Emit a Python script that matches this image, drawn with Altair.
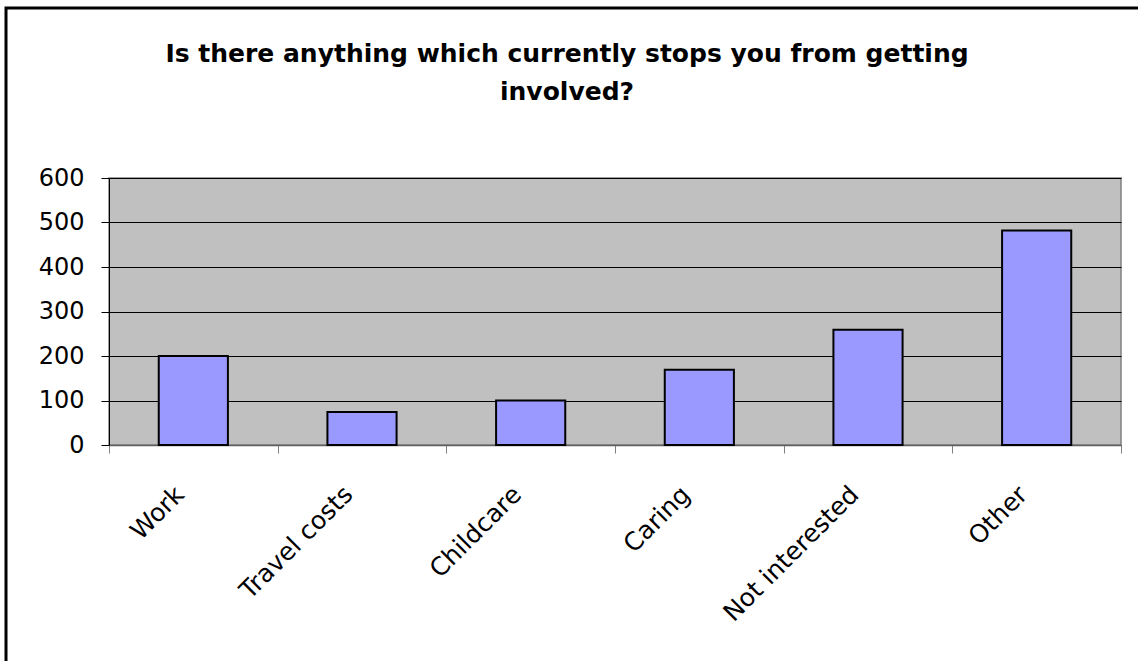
import altair as alt
import pandas as pd

categories = ["Work", "Travel costs", "Childcare", "Caring", "Not interested", "Other"]
counts = [200, 74, 100, 169, 259, 482]
y_ticks = [0, 100, 200, 300, 400, 500, 600]
title_lines = ["Is there anything which currently stops you from getting", "involved?"]

df = pd.DataFrame({"category": categories, "count": counts})

FONT = "DejaVu Sans"

bars = alt.Chart(df).mark_bar(
    fill="#9999FF", stroke="#000000", strokeWidth=2, width={"band": 0.41}
).encode(
    x=alt.X(
        "category:N",
        sort=categories,
        title=None,
        scale=alt.Scale(paddingInner=0, paddingOuter=0),
        axis=alt.Axis(
            labelAngle=-45,
            labelAlign="right",
            labelBaseline="middle",
            labelFontSize=25,
            labelFont=FONT,
            labelColor="#000000",
            labelPadding=37,
            labelOffset=-14,
            tickBand="extent",
            tickSize=8,
            tickColor="#808080",
            domainColor="#606060",
            domainWidth=1.5,
            grid=False,
        ),
    ),
    y=alt.Y(
        "count:Q",
        title=None,
        scale=alt.Scale(domain=[0, 600], nice=False),
        axis=alt.Axis(
            values=y_ticks,
            labelFontSize=24,
            labelFont=FONT,
            labelColor="#000000",
            labelPadding=17,
            tickSize=8,
            tickColor="#000000",
            domainColor="#000000",
            grid=True,
            gridColor="#000000",
            gridWidth=1,
        ),
    ),
)

border = alt.Chart(pd.DataFrame({"a": [0]})).mark_rect(
    fill=None, stroke="#000000", strokeWidth=3
).encode(
    x=alt.value(-103),
    x2=alt.value(1100),
    y=alt.value(-170),
    y2=alt.value(600),
)

chart = alt.layer(bars, border).properties(
    width=1012,
    height=267,
    autosize=alt.AutoSizeParams(type="none"),
    padding={"left": 109, "top": 178, "right": 17, "bottom": 216},
    background="#FFFFFF",
    title=alt.Title(
        title_lines,
        font=FONT,
        fontSize=25,
        fontWeight="bold",
        color="#000000",
        anchor="middle",
        dx=-48,
        offset=0,
        dy=98,
        lineHeight=38,
    ),
).configure_view(
    fill="#C0C0C0", stroke="#808080", strokeWidth=1.5
)

chart.save("out.html", embed_options={"renderer": "svg", "actions": False})
